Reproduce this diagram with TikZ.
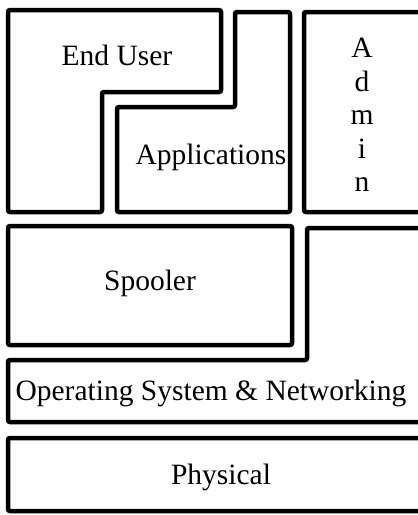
\documentclass[tikz,border=0pt]{standalone}
\usepackage{fontspec}
\setmainfont{Liberation Serif}
\tikzset{
  capa/.style={line width=4.5pt, rounded corners=2pt},
  rotulo/.style={font=\fontsize{29.5}{33.5}\selectfont, inner sep=0pt},
}
\begin{document}
\begin{tikzpicture}[x=1pt,y=-1pt]
  \useasboundingbox (0,0) rectangle (418,515);
  % bloques superiores
  \draw[capa] (8,10) -- (221,10) -- (221,92) -- (102,92) -- (102,212) -- (8,212) -- cycle;
  \draw[capa] (117,107) -- (235,107) -- (235,12) -- (290,12) -- (290,212) -- (117,212) -- cycle;
  \draw[capa] (304,12) -- (425,12) -- (425,212) -- (304,212) -- cycle;
  % capas intermedias e inferiores
  \draw[capa] (8,226) rectangle (292,345);
  \draw[capa] (8,360) -- (307,360) -- (307,228) -- (425,228) -- (425,422) -- (8,422) -- cycle;
  \draw[capa] (8,438) rectangle (425,511);
  \node[rotulo] (usuario) at (117,55) {End User};
  \node[rotulo] (aplic) at (211,157) {Applications};
  \node[rotulo, align=center] (admin) at (362,115) {A\\d\\m\\i\\n};
  \node[rotulo] (spool) at (150,283) {Spooler};
  \node[rotulo] (sisop) at (211,393) {Operating System \& Networking};
  \node[rotulo] (fisico) at (221,477) {Physical};
\end{tikzpicture}
\end{document}
